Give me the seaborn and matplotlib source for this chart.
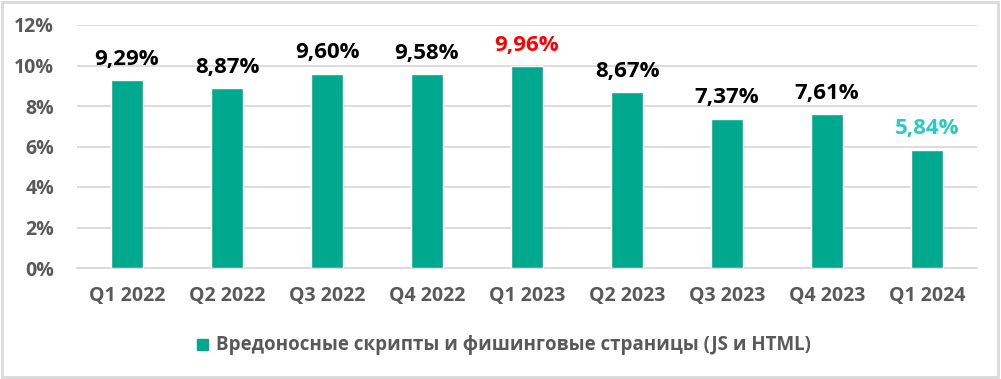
import matplotlib
matplotlib.use("Agg")
import matplotlib.pyplot as plt
import seaborn as sns
import pandas as pd
from matplotlib.patches import Rectangle

# данные
quarters = ["Q1 2022", "Q2 2022", "Q3 2022", "Q4 2022", "Q1 2023",
            "Q2 2023", "Q3 2023", "Q4 2023", "Q1 2024"]
shares = [9.29, 8.87, 9.60, 9.58, 9.96, 8.67, 7.37, 7.61, 5.84]
label_colors = ["black", "black", "black", "black", "#FF0000",
                "black", "black", "black", "#2CC9C0"]
series_name = "Вредоносные скрипты и фишинговые страницы (JS и HTML)"

sns.set_style("white")
plt.rcParams['font.family'] = ['Open Sans', 'DejaVu Sans']

bar_color = "#00A88E"
grey = "#595959"

df = pd.DataFrame({"quarter": quarters, "share": shares})

fig = plt.figure(figsize=(10.01, 3.79), dpi=100)
ax = fig.add_axes([77 / 1001, 1 - 268 / 379, 900 / 1001, (268 - 25) / 379])

sns.barplot(data=df, x="quarter", y="share", color=bar_color, width=0.32,
            saturation=1, ax=ax, zorder=3)

ax.set_ylim(0, 12)
ax.set_xlim(-0.5, len(quarters) - 0.5)
ax.set_yticks(range(0, 13, 2))
ax.set_yticklabels([f"{v}%" for v in range(0, 13, 2)])
ax.grid(axis="y", color="#D9D9D9", linewidth=1.3, zorder=0)
ax.set_axisbelow(True)
for s in ["top", "right", "left"]:
    ax.spines[s].set_visible(False)
ax.spines["bottom"].set_color("#D9D9D9")
ax.spines["bottom"].set_linewidth(1.3)
ax.set_xlabel("")
ax.set_ylabel("")
ax.tick_params(axis="both", length=0, labelsize=14, labelcolor=grey)
ax.tick_params(axis="x", pad=13)
ax.tick_params(axis="y", pad=16.5)
for t in ax.get_xticklabels() + ax.get_yticklabels():
    t.set_fontweight("bold")

# подписи значений
for i, (v, c) in enumerate(zip(shares, label_colors)):
    ax.annotate(f"{v:.2f}%".replace(".", ","), (i, v), xytext=(0, 11),
                textcoords="offset points", ha="center", va="baseline",
                fontsize=16, fontweight="bold", color=c)

# легенда
fig.patches.append(Rectangle((197 / 1001, 1 - 350 / 379), 11 / 1001, 11 / 379,
                             transform=fig.transFigure, color=bar_color))
fig.text(216 / 1001, 1 - 345 / 379, series_name, ha="left", va="center",
         fontsize=13.5, fontweight="bold", color=grey)

# рамка
fig.patches.append(Rectangle((0.002, 0.004), 0.995, 0.99, transform=fig.transFigure,
                             fill=False, edgecolor="#D9D9D9", linewidth=2))

fig.savefig("out.png", dpi=100)
